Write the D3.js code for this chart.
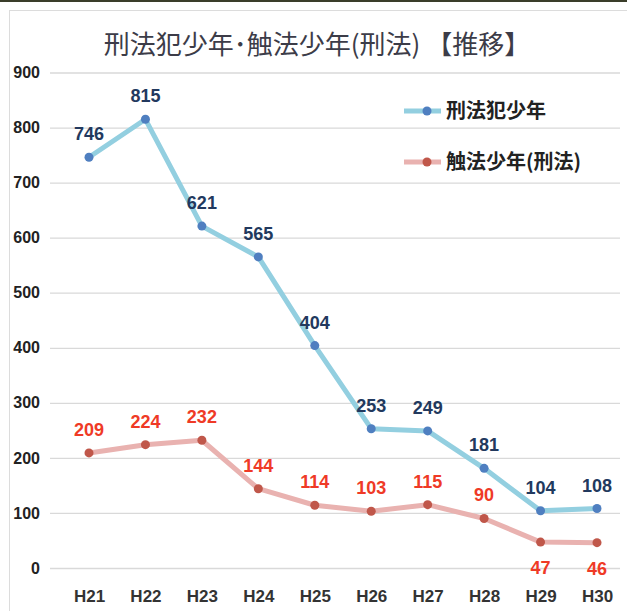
<!DOCTYPE html>
<html>
<head>
  <meta charset="utf-8">
  <script src="https://d3js.org/d3.v7.min.js"></script>
  <style>
    body { margin: 0; background: #fff; }
    text { font-family: "Liberation Sans", Arial, sans-serif; }
    .cjk { font-family: "Noto Sans CJK JP", sans-serif; }
  </style>
</head>
<body>
  <script>
    // data
    var years = ["H21", "H22", "H23", "H24", "H25", "H26", "H27", "H28", "H29", "H30"];
    var keihouhan = [746, 815, 621, 565, 404, 253, 249, 181, 104, 108];
    var shokuhou = [209, 224, 232, 144, 114, 103, 115, 90, 47, 46];
    var seriesNames = ["刑法犯少年", "触法少年(刑法)"];
    var yTicks = [0, 100, 200, 300, 400, 500, 600, 700, 800, 900];
    var title = "刑法犯少年･触法少年(刑法) 【推移】";

    var width = 627,
        height = 611;

    var svg = d3.select('body')
      .append('svg')
      .attr('width', width)
      .attr('height', height);

    // frame of the scanned chart
    svg.append('rect')
      .attr('x', 0).attr('y', 0).attr('width', width).attr('height', 2)
      .attr('fill', '#3a3d2a');
    svg.append('rect')
      .attr('x', 9.5).attr('y', 10.5)
      .attr('width', 700).attr('height', 700)
      .attr('fill', 'none')
      .attr('stroke', '#dcdcdc');

    var x = d3.scalePoint()
      .domain(years)
      .range([89, 597]);

    var y = d3.scaleLinear()
      .domain([0, 900])
      .range([568, 72.5]);

    // gridlines + y labels
    var yAxis = svg.append('g')
      .attr('transform', 'translate(50,0)')
      .call(d3.axisLeft(y).tickValues(yTicks).tickSize(-570).tickPadding(10));
    yAxis.select('.domain').remove();
    yAxis.selectAll('.tick line').attr('stroke', '#d9d9d9').attr('stroke-width', 1.3);
    yAxis.selectAll('.tick text')
      .attr('fill', '#222')
      .style('font-size', '16px')
      .style('font-weight', 'bold');

    // x labels
    var xAxis = svg.append('g')
      .attr('transform', 'translate(0,590)')
      .call(d3.axisBottom(x).tickSize(0).tickPadding(0));
    xAxis.select('.domain').remove();
    xAxis.selectAll('.tick text')
      .attr('fill', '#333')
      .style('font-size', '17px')
      .style('font-weight', 'bold');

    // title
    svg.append('text')
      .attr('class', 'cjk')
      .attr('x', 317)
      .attr('y', 54)
      .attr('text-anchor', 'middle')
      .attr('fill', '#3c3c48')
      .style('font-size', '26px')
      .text(title);

    var series = [
      { name: seriesNames[0], values: keihouhan, line: '#93cfe0', dot: '#4f7fc0', label: '#22395e' },
      { name: seriesNames[1], values: shokuhou, line: '#e9b2b0', dot: '#c0574a', label: '#ef3a26' }
    ];

    var line = d3.line()
      .x(function(d, i) { return x(years[i]); })
      .y(function(d) { return y(d); });

    series.forEach(function(s) {
      svg.append('path')
        .datum(s.values)
        .attr('d', line)
        .attr('fill', 'none')
        .attr('stroke', s.line)
        .attr('stroke-width', 5)
        .attr('stroke-linejoin', 'round');

      svg.selectAll(null)
        .data(s.values)
        .enter()
        .append('circle')
        .attr('cx', function(d, i) { return x(years[i]); })
        .attr('cy', function(d) { return y(d); })
        .attr('r', 4.5)
        .attr('fill', s.dot);

      svg.selectAll(null)
        .data(s.values)
        .enter()
        .append('text')
        .attr('x', function(d, i) { return x(years[i]); })
        .attr('y', function(d) {
          // small red values sit under their dot
          return d < 50 ? y(d) + 32 : y(d) - 17;
        })
        .attr('text-anchor', 'middle')
        .attr('fill', s.label)
        .style('font-size', '18px')
        .style('font-weight', 'bold')
        .text(function(d) { return d; });
    });

    // legend
    var legend = svg.append('g');
    series.forEach(function(s, i) {
      var ly = 111 + i * 51;
      legend.append('line')
        .attr('x1', 404).attr('x2', 441)
        .attr('y1', ly).attr('y2', ly)
        .attr('stroke', s.line)
        .attr('stroke-width', 5);
      legend.append('circle')
        .attr('cx', 427).attr('cy', ly)
        .attr('r', 4.5)
        .attr('fill', s.dot);
      legend.append('text')
        .attr('class', 'cjk')
        .attr('x', 446)
        .attr('y', ly + 7)
        .attr('fill', '#222')
        .style('font-size', '20px')
        .style('font-weight', 'bold')
        .text(s.name);
    });
  </script>
</body>
</html>
